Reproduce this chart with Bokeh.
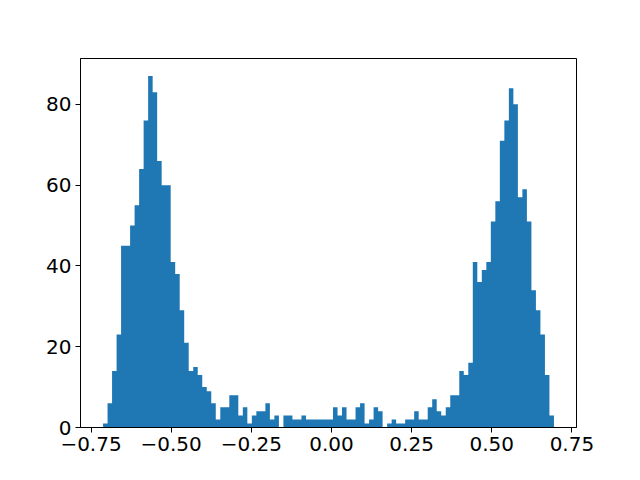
import numpy as np
from bokeh.plotting import figure
from bokeh.models import Range1d, FixedTicker
from bokeh.embed import file_html
from bokeh.resources import INLINE

# histogram: 100 bins between data min and max
data_min = -0.7125
data_max = 0.694
n_bins = 100
counts = [1, 6, 14, 23, 45, 45, 50, 55, 64, 76,
          87, 83, 66, 60, 60, 41, 38, 29, 21, 14,
          15, 13, 10, 9, 6, 2, 5, 5, 8, 8,
          3, 5, 1, 3, 4, 4, 6, 2, 3, 0,
          3, 3, 2, 2, 3, 2, 2, 2, 2, 2,
          2, 5, 3, 5, 2, 2, 5, 6, 1, 2,
          5, 4, 0, 1, 2, 1, 1, 2, 2, 4,
          2, 2, 5, 7, 4, 3, 5, 8, 8, 14,
          13, 16, 41, 36, 39, 41, 51, 56, 71, 76,
          84, 80, 57, 59, 51, 34, 29, 23, 13, 3]
x_ticks = [-0.75, -0.5, -0.25, 0.0, 0.25, 0.5, 0.75]
x_tick_labels = ["\u22120.75", "\u22120.50", "\u22120.25", "0.00", "0.25", "0.50", "0.75"]
y_ticks = [0, 20, 40, 60, 80]

edges = np.linspace(data_min, data_max, n_bins + 1)
# step outline of the histogram as one polygon (avoids seams between bars)
xs = [edges[0]]
ys = [0]
for i, c in enumerate(counts):
    xs += [edges[i], edges[i + 1]]
    ys += [c, c]
xs.append(edges[-1])
ys.append(0)

span = data_max - data_min
p = figure(width=624, height=464,
           x_range=Range1d(data_min - 0.05 * span, data_max + 0.05 * span),
           y_range=Range1d(0, max(counts) * 1.05),
           output_backend="svg", toolbar_location=None,
           min_border_left=80, min_border_right=48,
           min_border_top=58, min_border_bottom=37)

p.patch(xs, ys, fill_color="#1f77b4", line_color=None)

p.xgrid.visible = False
p.ygrid.visible = False
p.outline_line_color = "black"
p.outline_line_width = 1
p.outline_line_alpha = 1

p.xaxis.ticker = FixedTicker(ticks=x_ticks)
p.xaxis.major_label_overrides = {t: l for t, l in zip(x_ticks, x_tick_labels)}
p.yaxis.ticker = FixedTicker(ticks=y_ticks)

for ax in (p.xaxis, p.yaxis):
    ax.major_label_text_font = "DejaVu Sans"
    ax.major_label_text_font_size = "20px"
    ax.major_label_text_color = "black"
    ax.axis_line_color = "black"
    ax.major_tick_line_color = "black"
    ax.major_tick_out = 5
    ax.major_tick_in = 0
    ax.minor_tick_line_color = None
    ax.major_label_standoff = 4

p.background_fill_color = "white"
p.border_fill_color = "white"

open("out.html", "w").write(file_html(p, INLINE))
